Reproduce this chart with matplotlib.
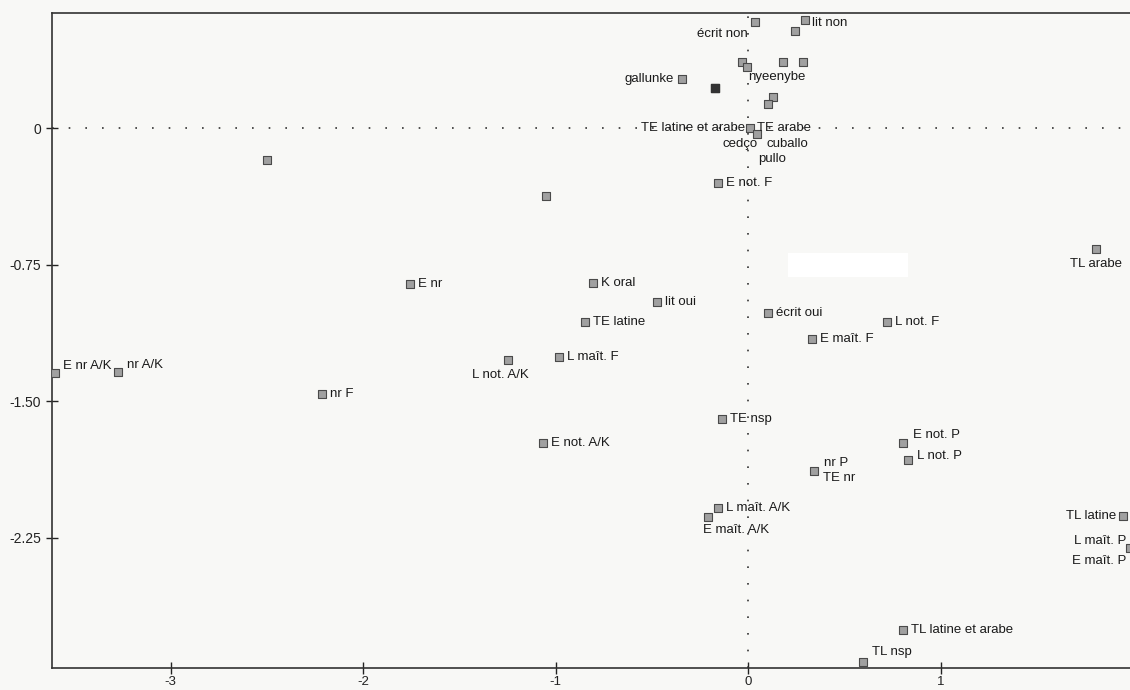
import matplotlib.pyplot as plt
from matplotlib.patches import Rectangle

plt.rcParams['font.family'] = ['Liberation Sans', 'DejaVu Sans']

# coordonnees des modalites (plan factoriel 1-2)
names = ['ecrit_non', 'lit_non', 'lit_non2', 'nye1', 'nye2', 'nye3', 'nye4',
         'gallunke', 'dark1', 'p1', 'p2', 'te_lat_ar', 'cedco',
         'e_not_f', 'a1', 'a2', 'e_nr', 'k_oral', 'lit_oui', 'te_latine',
         'l_mait_f', 'l_not_ak', 'ecrit_oui', 'l_not_f', 'e_mait_f',
         'tl_arabe', 'e_nr_ak', 'nr_ak', 'nr_f', 'e_not_ak', 'te_nsp',
         'e_not_p', 'l_not_p', 'nr_p', 'l_mait_ak', 'e_mait_ak',
         'tl_latine', 'lp_ep', 'tl_lat_ar', 'tl_nsp']
xs = [0.036, 0.296, 0.244, -0.031, -0.005, 0.182, 0.286,
      -0.343, -0.171, 0.130, 0.104, 0.010, 0.047,
      -0.156, -2.499, -1.049, -1.756, -0.805, -0.473, -0.847,
      -0.982, -1.247, 0.104, 0.722, 0.332,
      1.808, -3.600, -3.273, -2.213, -1.065, -0.135,
      0.805, 0.831, 0.343, -0.156, -0.208,
      1.948, 1.985, 0.805, 0.597]
ys = [0.580, 0.593, 0.532, 0.362, 0.335, 0.362, 0.362,
      0.269, 0.220, 0.170, 0.132, 0.000, -0.033,
      -0.302, -0.176, -0.373, -0.856, -0.851, -0.955, -1.065,
      -1.257, -1.273, -1.015, -1.065, -1.158,
      -0.664, -1.345, -1.339, -1.460, -1.729, -1.597,
      -1.729, -1.822, -1.883, -2.086, -2.135,
      -2.130, -2.305, -2.755, -2.930]

# etiquettes : texte, modalite
label_texts = ['écrit non', 'lit non', 'nyeenybe', 'gallunke',
               'TE latine et arabe', 'TE arabe', 'cedço', 'cuballo', 'pullo',
               'E not. F', 'E nr', 'K oral', 'lit oui', 'TE latine',
               'L maît. F', 'L not. A/K', 'écrit oui', 'L not. F', 'E maît. F',
               'TL arabe', 'E nr A/K', 'nr A/K', 'nr F', 'E not. A/K',
               'TE nsp', 'E not. P', 'L not. P', 'nr P', 'TE nr',
               'L maît. A/K', 'E maît. A/K', 'TL latine', 'L maît. P',
               'E maît. P', 'TL latine et arabe', 'TL nsp']
label_points = ['ecrit_non', 'lit_non', 'nye2', 'gallunke',
                'te_lat_ar', 'te_lat_ar', 'cedco', 'cedco', 'cedco',
                'e_not_f', 'e_nr', 'k_oral', 'lit_oui', 'te_latine',
                'l_mait_f', 'l_not_ak', 'ecrit_oui', 'l_not_f', 'e_mait_f',
                'tl_arabe', 'e_nr_ak', 'nr_ak', 'nr_f', 'e_not_ak',
                'te_nsp', 'e_not_p', 'l_not_p', 'nr_p', 'nr_p',
                'l_mait_ak', 'e_mait_ak', 'tl_latine', 'lp_ep',
                'lp_ep', 'tl_lat_ar', 'tl_nsp']

# placement des etiquettes (pixels) : dx, dy, alignement
placement = {
    'écrit non': (-33, -12, 'center'), 'lit non': (7, -3, 'left'),
    'nyeenybe': (1, -10, 'left'), 'gallunke': (-8, 0, 'right'),
    'TE latine et arabe': (-5, 0, 'right'), 'TE arabe': (7, 0, 'left'),
    'cedço': (-17, -10, 'center'), 'cuballo': (9, -10, 'left'),
    'pullo': (1, -25, 'left'), 'L not. A/K': (-8, -15, 'center'),
    'TL arabe': (0, -15, 'center'), 'E nr A/K': (8, 7, 'left'),
    'nr A/K': (9, 7, 'left'), 'E not. P': (10, 8, 'left'),
    'L not. P': (9, 4, 'left'), 'nr P': (10, 8, 'left'),
    'TE nr': (9, -7, 'left'), 'E maît. A/K': (-5, -13, 'left'),
    'TL latine': (-7, 0, 'right'), 'L maît. P': (-4, 7, 'right'),
    'E maît. P': (-4, -13, 'right'), 'TL nsp': (9, 10, 'left'),
}

xticks = [-3, -2, -1, 0, 1]
yticks = [0, -0.75, -1.50, -2.25]
ytick_labels = ['0', '-0.75', '-1.50', '-2.25']

fig = plt.figure(figsize=(11.3, 6.9), dpi=100)
fig.patch.set_facecolor('#f8f8f6')
ax = fig.add_axes([0.046, 0.0319, 0.954, 0.949])
ax.set_facecolor('#f8f8f6')

ax.axhline(0, color='#333333', lw=1.2, ls=(0, (1, 9)), zorder=1)
ax.axvline(0, color='#333333', lw=1.2, ls=(0, (1, 9)), zorder=1)

ax.scatter(xs, ys, marker='s', s=26, facecolor='#a0a0a0', edgecolor='#4a4a4a',
           linewidth=0.8, zorder=3)
# le point sans etiquette plus fonce
i = names.index('dark1')
ax.scatter([xs[i]], [ys[i]], marker='s', s=34, color='#333333', zorder=4)

for t, p in zip(label_texts, label_points):
    k = names.index(p)
    dx, dy, ha = placement.get(t, (8, 0, 'left'))
    ax.annotate(t, (xs[k], ys[k]), xytext=(dx, dy), textcoords='offset pixels',
                ha=ha, va='center', fontsize=9.5, color='#1a1a1a', zorder=5)

# zone masquee sur le document d'origine
fig.patches.append(Rectangle((788 / 1130, 1 - 277 / 690), 120 / 1130, 24 / 690,
                             transform=fig.transFigure, facecolor='white',
                             edgecolor='none', zorder=10))

ax.set_xlim(-3.616, 1.984)
ax.set_ylim(-2.964, 0.631)
ax.set_xticks(xticks)
ax.set_xticklabels([str(v) for v in xticks])
ax.set_yticks(yticks)
ax.set_yticklabels(ytick_labels)
ax.tick_params(direction='inout', length=9, width=1, colors='#222222', labelsize=10)
ax.tick_params(axis='x', pad=1, labelsize=9.5)

for s in ['left', 'bottom', 'top']:
    ax.spines[s].set_color('#333333')
    ax.spines[s].set_linewidth(1.2)
ax.spines['right'].set_visible(False)

fig.savefig('out.png', dpi=100, facecolor=fig.get_facecolor())
